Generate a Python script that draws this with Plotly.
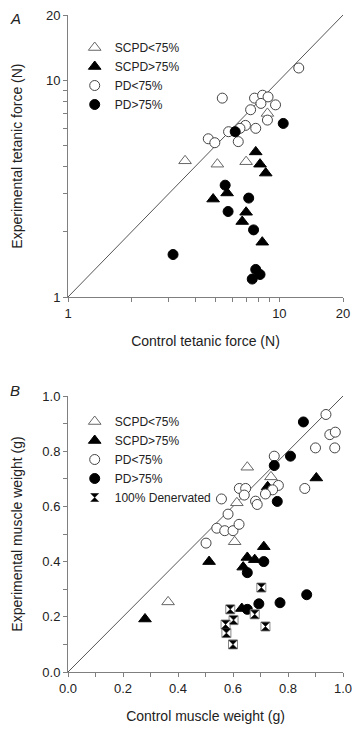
import math
import plotly.graph_objects as go

# ---------------- Panel A data (tetanic force, N) ----------------
a_scpd_lo_x = [3.58, 5.09, 6.96, 8.78]
a_scpd_lo_y = [4.25, 4.10, 4.21, 7.03]

a_scpd_hi_x = [7.73, 8.10, 8.62, 4.86, 5.66, 6.96, 6.67, 8.30]
a_scpd_hi_y = [4.67, 4.10, 3.73, 2.83, 3.02, 2.46, 2.23, 1.79]

a_pd_lo_x = [12.35, 5.37, 7.63, 8.33, 8.84, 8.18, 9.59, 7.31, 8.78, 7.73, 6.91, 6.51, 5.75, 6.39, 4.61, 4.95]
a_pd_lo_y = [11.39, 8.27, 8.27, 8.53, 8.38, 7.82, 7.70, 7.31, 6.55, 6.00, 6.19, 6.00, 5.79, 5.21, 5.37, 5.15]

a_pd_hi_x = [6.18, 10.43, 5.54, 7.16, 5.72, 7.55, 3.14, 7.73, 8.10, 7.44]
a_pd_hi_y = [5.79, 6.32, 3.28, 2.86, 2.48, 2.04, 1.57, 1.34, 1.27, 1.21]

a_ticks = [1, 2, 3, 4, 5, 6, 7, 8, 9, 10, 20]
a_ticklabels = ["1", "", "", "", "", "", "", "", "", "10", "20"]

# ---------------- Panel B data (muscle weight, g) ----------------
b_scpd_lo_x = [0.652, 0.738, 0.614, 0.606, 0.364]
b_scpd_lo_y = [0.742, 0.707, 0.613, 0.472, 0.254]

b_scpd_hi_x = [0.903, 0.726, 0.712, 0.652, 0.679, 0.637, 0.513, 0.280, 0.632]
b_scpd_hi_y = [0.703, 0.671, 0.454, 0.415, 0.407, 0.380, 0.400, 0.192, 0.230]

b_pd_lo_x = [0.938, 0.952, 0.972, 0.900, 0.970, 0.750, 0.861, 0.765, 0.744, 0.718, 0.623,
             0.646, 0.641, 0.558, 0.682, 0.688, 0.582, 0.541, 0.570, 0.600, 0.622, 0.502]
b_pd_lo_y = [0.933, 0.860, 0.869, 0.812, 0.812, 0.782, 0.665, 0.676, 0.660, 0.645, 0.665,
             0.665, 0.641, 0.627, 0.619, 0.607, 0.572, 0.521, 0.512, 0.512, 0.535, 0.467]

b_pd_hi_x = [0.856, 0.809, 0.750, 0.761, 0.712, 0.652, 0.868, 0.771, 0.694, 0.652]
b_pd_hi_y = [0.906, 0.782, 0.748, 0.618, 0.400, 0.360, 0.280, 0.251, 0.247, 0.227]

b_den_x = [0.703, 0.590, 0.602, 0.573, 0.576, 0.600, 0.679, 0.718]
b_den_y = [0.306, 0.227, 0.188, 0.172, 0.141, 0.100, 0.209, 0.165]

b_ticks = [0.0, 0.1, 0.2, 0.3, 0.4, 0.5, 0.6, 0.7, 0.8, 0.9, 1.0]
b_ticklabels = ["0.0", "", "0.2", "", "0.4", "", "0.6", "", "0.8", "", "1.0"]

a_range = [1, 20]
b_range = [0.0, 1.0]

FONT = "Liberation Sans, Arial, sans-serif"
TXT = "#222222"
AXC = "#7f7f7f"
MS = 10

# the page has the browser's default 8px body margin; keep the figure inside the window
OFF = 8
W, H = 360 - 2 * OFF, 733 - 2 * OFF
left_page, right_page = 68.3, 343.0
top_page, bottom_page = 15.0, 672.0
left_f, right_f = left_page - OFF, right_page - OFF
top_f, bottom_f = top_page - OFF, bottom_page - OFF
pw = right_f - left_f
ph = bottom_f - top_f


def py(page_y):
    return (bottom_f - (page_y - OFF)) / ph


def px(page_x):
    return ((page_x - OFF) - left_f) / pw


fig = go.Figure()

# identity lines
fig.add_trace(go.Scatter(x=a_range, y=a_range, mode="lines", xaxis="x", yaxis="y",
                         line=dict(color="#555555", width=1), showlegend=False, hoverinfo="skip"))
fig.add_trace(go.Scatter(x=b_range, y=b_range, mode="lines", xaxis="x2", yaxis="y2",
                         line=dict(color="#555555", width=1), showlegend=False, hoverinfo="skip"))

open_tri = dict(symbol="triangle-up", size=MS + 1, color="white", line=dict(color="#666666", width=1))
fill_tri = dict(symbol="triangle-up", size=MS + 1, color="black", line=dict(color="black", width=1))
open_circ = dict(symbol="circle", size=MS, color="white", line=dict(color="#444444", width=1))
fill_circ = dict(symbol="circle", size=MS, color="black", line=dict(color="black", width=1))


def add_sets(xa, ya, legend, sets):
    for name, xs, ys, marker in sets:
        fig.add_trace(go.Scatter(x=xs, y=ys, mode="markers", name=name,
                                 xaxis=xa, yaxis=ya, legend=legend,
                                 marker=marker, showlegend=True))


add_sets("x", "y", "legend", [
    ("SCPD<75%", a_scpd_lo_x, a_scpd_lo_y, open_tri),
    ("SCPD>75%", a_scpd_hi_x, a_scpd_hi_y, fill_tri),
    ("PD<75%", a_pd_lo_x, a_pd_lo_y, open_circ),
    ("PD>75%", a_pd_hi_x, a_pd_hi_y, fill_circ),
])

add_sets("x2", "y2", "legend2", [
    ("SCPD<75%", b_scpd_lo_x, b_scpd_lo_y, open_tri),
    ("SCPD>75%", b_scpd_hi_x, b_scpd_hi_y, fill_tri),
    ("PD<75%", b_pd_lo_x, b_pd_lo_y, open_circ),
    ("PD>75%", b_pd_hi_x, b_pd_hi_y, fill_circ),
])
# 100% denervated: square frame + hourglass
fig.add_trace(go.Scatter(x=b_den_x, y=b_den_y, mode="markers", xaxis="x2", yaxis="y2",
                         legend="legend2", showlegend=False, hoverinfo="skip",
                         marker=dict(symbol="square", size=9, color="white",
                                     line=dict(color="#888888", width=1))))
fig.add_trace(go.Scatter(x=b_den_x, y=b_den_y, mode="markers", xaxis="x2", yaxis="y2",
                         legend="legend2", name="100% Denervated", showlegend=True,
                         marker=dict(symbol="hourglass", size=8, color="black",
                                     line=dict(color="black", width=0.5))))

common_axis = dict(showline=True, linecolor=AXC, linewidth=1, ticks="outside",
                   tickcolor=AXC, ticklen=4, tickwidth=1, showgrid=False, zeroline=False,
                   tickfont=dict(family=FONT, size=13, color=TXT), mirror=False,
                   ticklabeloverflow="allow")

a_dom = [py(297.0), 1.0]
b_dom = [0.0, py(396.0)]

title_font = dict(family=FONT, size=14, color=TXT)

fig.update_layout(
    width=W, height=H,
    margin=dict(l=left_f, r=W - right_f, t=top_f, b=H - bottom_f, autoexpand=False),
    paper_bgcolor="white", plot_bgcolor="white",
    font=dict(family=FONT, size=12, color=TXT),
    xaxis=dict(type="log", range=[math.log10(a_range[0]), math.log10(a_range[1])],
               tickvals=a_ticks, ticktext=a_ticklabels, anchor="y", domain=[0, 1],
               title=dict(text="Control tetanic force (N)", font=title_font, standoff=16),
               **common_axis),
    yaxis=dict(type="log", range=[math.log10(a_range[0]), math.log10(a_range[1])],
               tickvals=a_ticks, ticktext=a_ticklabels, anchor="x", domain=a_dom,
               **common_axis),
    xaxis2=dict(range=b_range, tickvals=b_ticks, ticktext=b_ticklabels, anchor="y2", domain=[0, 1],
                title=dict(text="Control muscle weight (g)", font=title_font, standoff=16),
                **common_axis),
    yaxis2=dict(range=b_range, tickvals=b_ticks, ticktext=b_ticklabels, anchor="x2", domain=b_dom,
                **common_axis),
    legend=dict(x=px(75), y=py(33), xanchor="left", yanchor="top",
                bgcolor="rgba(0,0,0,0)", font=dict(family=FONT, size=12, color=TXT)),
    legend2=dict(x=px(75), y=py(407), xanchor="left", yanchor="top",
                 bgcolor="rgba(0,0,0,0)", font=dict(family=FONT, size=12, color=TXT)),
)

# y-axis titles (placed further left than plotly's standoff allows)
fig.add_annotation(text="Experimental tetanic force (N)", xref="paper", yref="paper",
                   x=px(17), y=(a_dom[0] + a_dom[1]) / 2, textangle=-90,
                   xanchor="center", yanchor="middle", showarrow=False, font=title_font)
fig.add_annotation(text="Experimental muscle weight (g)", xref="paper", yref="paper",
                   x=px(17), y=(b_dom[0] + b_dom[1]) / 2, textangle=-90,
                   xanchor="center", yanchor="middle", showarrow=False, font=title_font)

fig.add_annotation(text="<i>A</i>", xref="paper", yref="paper", x=px(8), y=py(8),
                   xanchor="left", yanchor="top", showarrow=False,
                   font=dict(family=FONT, size=15, color=TXT))
fig.add_annotation(text="<i>B</i>", xref="paper", yref="paper", x=px(8), y=py(390),
                   xanchor="left", yanchor="middle", showarrow=False,
                   font=dict(family=FONT, size=15, color=TXT))

fig.write_html("out.html")
